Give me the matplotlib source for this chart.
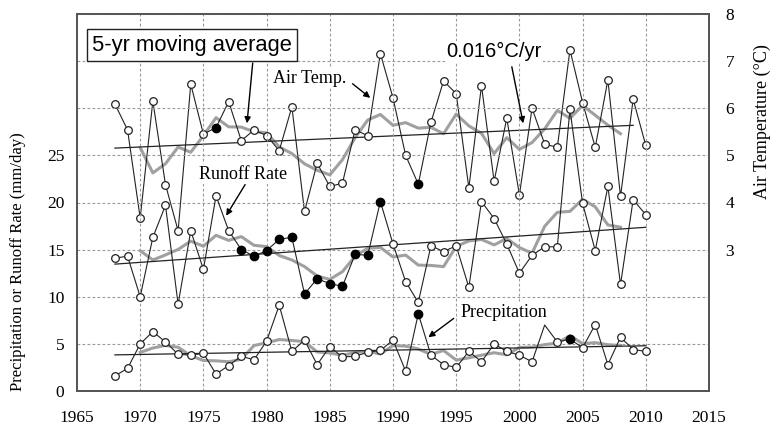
import numpy as np
import pandas as pd
import matplotlib
matplotlib.use('Agg')
import matplotlib.pyplot as plt

years = np.arange(1968, 2011)

air_temp = [6.09, 5.54, 3.67, 6.15, 4.38, 3.40, 6.51, 5.45, 5.59, 6.14,
            5.31, 5.54, 5.42, 5.10, 6.03, 3.81, 4.83, 4.34, 4.41, 5.54,
            5.42, 7.16, 6.22, 5.00, 4.39, 5.70, 6.58, 6.31, 4.31, 6.48,
            4.45, 5.79, 4.16, 6.00, 5.24, 5.17, 7.24, 6.12, 5.17, 6.60,
            4.13, 6.19, 5.21]

runoff = [14.1, 14.3, 10.0, 16.3, 19.7, 9.2, 17.0, 12.9, 20.7, 17.0,
          15.0, 14.3, 14.9, 16.1, 16.3, 10.3, 11.9, 11.4, 11.1, 14.5,
          14.4, 20.1, 15.6, 11.6, 9.4, 15.4, 14.8, 15.4, 11.0, 20.1,
          18.3, 15.6, 12.5, 14.4, 15.3, 15.3, 29.9, 19.9, 14.9, 21.7,
          11.3, 20.3, 18.7]

precip = [1.6, 2.4, 5.0, 6.3, 5.2, 3.9, 3.8, 4.0, 1.8, 2.7,
          3.7, 3.3, 5.3, 9.1, 4.2, 5.4, 2.8, 4.7, 3.6, 3.7,
          4.1, 4.3, 5.4, 2.1, 8.2, 3.8, 2.8, 2.5, 4.2, 3.1,
          5.0, 4.2, 3.8, 3.1, 7.0, 5.2, 5.5, 4.6, 7.05, 2.8,
          5.7, 4.4, 4.2]

# years drawn with black markers
temp_filled = [1976, 1992]
runoff_filled = list(range(1978, 1990))
precip_filled = [1992, 2004]
precip_nomarker = [2002]

plt.rcParams['font.family'] = ['Liberation Serif', 'DejaVu Serif']

fig = plt.figure(figsize=(7.74, 4.26), dpi=100)
ax = fig.add_axes([77/774, 35/426, 632/774, 377/426])
ax2 = ax.twinx()


def draw_series(a, y, filled, nomarker=(), trend_end=2010):
    y = np.asarray(y, dtype=float)
    ma = pd.Series(y).rolling(5, center=True).mean()
    a.plot(years, ma, color='#a0a0a0', lw=2.2, zorder=2)
    k, b = np.polyfit(years, y, 1)
    tx = np.array([years[0], trend_end])
    a.plot(tx, k * tx + b, color='#222222', lw=0.9, zorder=3)
    a.plot(years, y, color='#222222', lw=0.8, zorder=4)
    show = ~np.isin(years, list(nomarker))
    fill = np.isin(years, filled)
    a.plot(years[show & ~fill], y[show & ~fill], 'o', ms=5.5, mfc='white',
           mec='#222222', mew=0.9, zorder=5)
    a.plot(years[fill], y[fill], 'o', ms=6, mfc='black', mec='black', zorder=5)


draw_series(ax, runoff, runoff_filled)
draw_series(ax, precip, precip_filled, precip_nomarker)
draw_series(ax2, air_temp, temp_filled, trend_end=2009)

ax.set_xlim(1965, 2015)
ax.set_ylim(0, 40)
ax2.set_ylim(0, 8)
ax.set_xticks(range(1965, 2016, 5))
ax.set_yticks(range(0, 41, 5))
ax.set_yticklabels([str(v) if v <= 25 else '' for v in range(0, 41, 5)])
ax2.set_yticks(range(3, 9))
ax.grid(True, color='#999999', ls=(0, (2.5, 2)), lw=0.8)
ax.set_axisbelow(True)
ax.tick_params(axis='x', length=0, pad=14, labelsize=12.5)
ax.tick_params(axis='y', length=0, pad=9, labelsize=12.5)
ax2.tick_params(axis='y', length=0, pad=12, labelsize=12.5)
for a in (ax, ax2):
    for s in a.spines.values():
        s.set_color('#555555')
        s.set_linewidth(1.3)
ax.set_zorder(ax2.get_zorder() + 1)
ax.patch.set_visible(False)

arrow = dict(arrowstyle='-|>', color='black', lw=1.0, mutation_scale=9,
             shrinkA=0, shrinkB=0)
sans = ['Liberation Sans', 'DejaVu Sans']

ax.text(1974.1, 36.7, '5-yr moving average', family=sans, fontsize=15.8,
        ha='center', va='center', zorder=10,
        bbox=dict(boxstyle='square,pad=0.25', fc='white', ec='#222222', lw=1))
ax.annotate('', xy=(1978.45, 28.4), xytext=(1978.9, 34.8), arrowprops=arrow)

ax.text(1983.4, 33.2, 'Air Temp.', fontsize=13, ha='center', va='center',
        bbox=dict(fc='white', ec='none', pad=1), zorder=8)
ax.annotate('', xy=(1988.2, 31.1), xytext=(1986.8, 32.6), arrowprops=arrow)

ax.text(1998.0, 36.0, '0.016°C/yr', family=sans, fontsize=14.5,
        ha='center', va='center', bbox=dict(fc='white', ec='none', pad=1), zorder=8)
ax.annotate('', xy=(2000.3, 28.4), xytext=(1999.4, 34.4), arrowprops=arrow)

ax.text(1978.1, 23.0, 'Runoff Rate', fontsize=13, ha='center', va='center',
        bbox=dict(fc='white', ec='none', pad=1), zorder=8)
ax.annotate('', xy=(1976.8, 18.6), xytext=(1978.3, 21.9), arrowprops=arrow)

ax.text(1998.8, 8.35, 'Precpitation', fontsize=13, ha='center', va='center',
        bbox=dict(fc='white', ec='none', pad=1), zorder=8)
ax.annotate('', xy=(1992.8, 5.7), xytext=(1994.8, 7.7), arrowprops=arrow)

fig.text(18/774, 1 - 262/426, 'Precipitation or Runoff Rate (mm/day)',
         rotation=90, ha='center', va='center', fontsize=12)
fig.text(762/774, 1 - 122/426, 'Air Temperature (°C)',
         rotation=90, ha='center', va='center', fontsize=13)

fig.savefig('out.png', dpi=100)
